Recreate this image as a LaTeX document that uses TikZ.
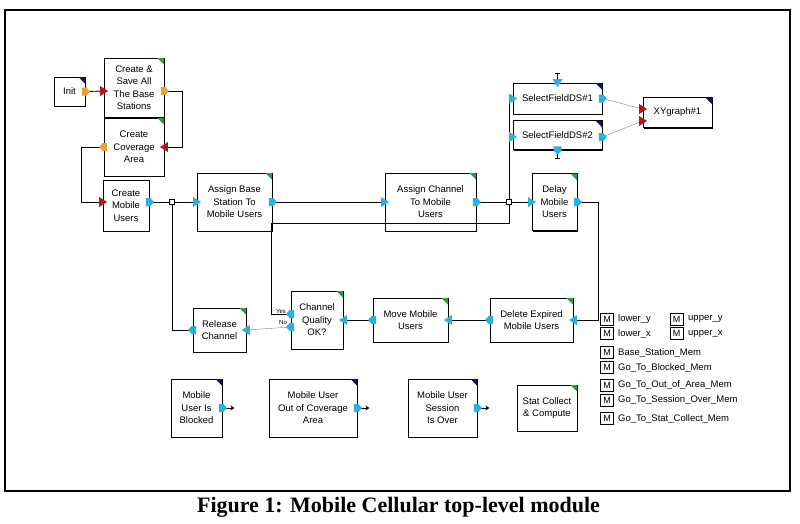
\documentclass[tikz,border=0pt]{standalone}
\usepackage{fontspec}
\newfontfamily\blockfont{Liberation Sans}
\newfontfamily\capfont{Liberation Serif}
\usetikzlibrary{shadows,arrows.meta}

\definecolor{portblue}{RGB}{40,178,222}
\definecolor{portorange}{RGB}{232,160,56}
\definecolor{portred}{RGB}{176,24,24}
\definecolor{cornergreen}{RGB}{40,160,60}
\definecolor{cornernavy}{RGB}{16,16,112}

\tikzset{
  block/.style={draw, line width=0.8pt, fill=white, align=center, inner sep=0pt,
    font=\blockfont\fontsize{9.5}{12.5}\selectfont,
    drop shadow={shadow xshift=1.3pt, shadow yshift=-1.3pt, fill=black, opacity=1}},
  blocksize/.style 2 args={minimum width=#1pt, minimum height=#2pt},
  wire/.style={line width=0.9pt},
  thinwire/.style={line width=0.4pt, gray},
  junction/.style={draw, fill=white, line width=0.6pt, minimum size=4.5pt, inner sep=0pt},
  membox/.style={draw, line width=0.9pt, minimum width=13pt, minimum height=12pt,
    inner sep=0pt, font=\blockfont\fontsize{9}{10}\selectfont},
  memlabel/.style={anchor=west, inner sep=0pt, font=\blockfont\fontsize{9.5}{10}\selectfont},
  pics/inport/.style={code={\fill[#1] (-3.5,-5) -- (4.5,0) -- (-3.5,5) -- cycle;}},
  pics/outport/.style={code={\fill[#1] (-3.5,-4) -- (1,-4) -- (4.5,0) -- (1,4) -- (-3.5,4) -- cycle;}},
  pics/corner/.style={code={\fill[#1] (-7,0.5) -- (-0.5,0.5) -- (-0.5,7) -- cycle;}}
}

\begin{document}
\begin{tikzpicture}[x=1pt,y=-1pt]
\useasboundingbox (0,0) rectangle (800,523);
\draw[line width=1.4pt] (5,10) rectangle (790,491);

% Define nodes
\node[block, blocksize={31}{29}] (init) at (69.5,91.5) {Init};
\node[block, blocksize={60}{59}] (csave) at (134,87.5) {Create \&\\Save All\\The Base\\Stations};
\node[block, blocksize={60}{58}] (ccov) at (134,147) {Create\\Coverage\\Area};
\node[block, blocksize={46}{51}] (cmu) at (126,205.5) {Create\\Mobile\\Users};
\node[block, blocksize={75}{58}] (abs) at (234.5,202) {Assign Base\\Station To\\Mobile Users};
\node[block, blocksize={91}{58}] (ach) at (430.5,202) {Assign Channel\\To Mobile\\Users};
\node[block, blocksize={45}{57}] (dmu) at (554.5,202) {Delay\\Mobile\\Users};
\node[block, blocksize={89}{31}] (sf1) at (557.5,98.5) {SelectFieldDS\#1};
\node[block, blocksize={89}{29}] (sf2) at (557.5,135) {SelectFieldDS\#2};
\node[block, blocksize={69}{30}] (xyg) at (677.5,112.5) {XYgraph\#1};
\node[block, blocksize={53}{44}] (rel) at (219.5,330) {Release\\Channel};
\node[block, blocksize={52}{58}] (cq) at (317,320) {Channel\\Quality\\OK?};
\node[block, blocksize={75}{44}] (mmu) at (410.5,320) {Move Mobile\\Users};
\node[block, blocksize={83}{44}] (dem) at (531.5,320) {Delete Expired\\Mobile Users};
\node[block, blocksize={51}{58}] (blk) at (196.5,408) {Mobile\\User Is\\Blocked};
\node[block, blocksize={88}{58}] (ooc) at (313,408) {Mobile User\\Out of Coverage\\Area};
\node[block, blocksize={69}{58}] (sov) at (442.5,408) {Mobile User\\Session\\Is Over};
\node[block, blocksize={60}{46}] (stat) at (547,408) {Stat Collect\\\& Compute};

\node[junction] (j1) at (172,202) {};
\node[junction] (j2) at (509,202) {};

% Memory blocks
\node[membox] (m1) at (607,319) {M};
\node[memlabel] (t1) at (618,319) {lower\_y};
\node[membox] (m2) at (607,333.5) {M};
\node[memlabel] (t2) at (618,333.5) {lower\_x};
\node[membox] (m3) at (676.5,319) {M};
\node[memlabel] (t3) at (688,319) {upper\_y};
\node[membox] (m4) at (676.5,333.5) {M};
\node[memlabel] (t4) at (688,333.5) {upper\_x};
\node[membox] (m5) at (607,352.5) {M};
\node[memlabel] (t5) at (618,352.5) {Base\_Station\_Mem};
\node[membox] (m6) at (607,367.5) {M};
\node[memlabel] (t6) at (618,367.5) {Go\_To\_Blocked\_Mem};
\node[membox] (m7) at (607,385) {M};
\node[memlabel] (t7) at (618,385) {Go\_To\_Out\_of\_Area\_Mem};
\node[membox] (m8) at (607,400) {M};
\node[memlabel] (t8) at (618,400) {Go\_To\_Session\_Over\_Mem};
\node[membox] (m9) at (607,418.5) {M};
\node[memlabel] (t9) at (618,418.5) {Go\_To\_Stat\_Collect\_Mem};

% Port positions
\coordinate (csave-in) at ([yshift=-3.5pt]csave.west);
\coordinate (csave-out) at ([yshift=-3.5pt]csave.east);
\coordinate (cmu-in) at ([yshift=3.5pt]cmu.west);
\coordinate (cmu-out) at ([yshift=3.5pt]cmu.east);
\coordinate (sf2-in) at ([yshift=-2pt]sf2.west);
\coordinate (sf2-out) at ([yshift=-2pt]sf2.east);
\coordinate (xyg-in1) at ([yshift=3.5pt]xyg.west);
\coordinate (xyg-in2) at ([yshift=-8.5pt]xyg.west);
\coordinate (cq-yes) at ([yshift=6pt]cq.west);
\coordinate (cq-no) at ([yshift=-7pt]cq.west);
\coordinate (loop) at (271,223);
\coordinate (sf1-top) at ([yshift=9pt]sf1.north);
\coordinate (sf2-bot) at ([yshift=-8pt]sf2.south);
\coordinate (blk-end) at ([xshift=12pt]blk.east);
\coordinate (ooc-end) at ([xshift=12pt]ooc.east);
\coordinate (sov-end) at ([xshift=12pt]sov.east);

% Draw connectors
\draw[wire] (init.east) -- (csave-in);
\draw[wire] (csave-out) -- ++(18,0) |- (ccov.east);
\draw[wire] (ccov.west) -- ++(-22,0) |- (cmu-in);
\draw[wire] (cmu-out) -- (j1) -- (abs.west);
\draw[wire] (j1) |- (rel.west);
\draw[wire] (abs.east) -- (ach.west);
\draw[wire] (ach.east) -- (j2) -- (dmu.west);
\draw[wire] (j2) |- (sf1.west);
\draw[wire] (j2) |- (sf2-in);
\draw[wire] (j2) |- (loop) |- (cq-yes);
\draw[wire] (dmu.east) -- ++(21,0) |- (dem.east);
\draw[wire] (dem.west) -- (mmu.east);
\draw[wire] (mmu.west) -- (cq.east);
\draw[thinwire] (cq-no) -- (rel.east);
\draw[thinwire] (sf1.east) -- (xyg-in1);
\draw[thinwire] (sf2-out) -- (xyg-in2);
\draw[line width=0.6pt] (sf1.north) -- (sf1-top) ++(-2.5,0) -- ++(5,0);
\draw[line width=0.6pt] (sf2.south) -- (sf2-bot) ++(-2.5,0) -- ++(5,0);
\draw[wire, -{Stealth[length=4pt,width=5pt]}] (blk.east) -- (blk-end);
\draw[wire, -{Stealth[length=4pt,width=5pt]}] (ooc.east) -- (ooc-end);
\draw[wire, -{Stealth[length=4pt,width=5pt]}] (sov.east) -- (sov-end);

\node[fill=white, inner sep=0.3pt, font=\blockfont\fontsize{6}{6}\selectfont] (yes) at (281,311.5) {Yes};
\node[inner sep=0.3pt, font=\blockfont\fontsize{6}{6}\selectfont] (no) at (283,322.5) {No};

% Ports
\pic at (init.east) {outport=portorange};
\pic at (csave-in) {inport=portred};
\pic at (csave-out) {outport=portorange};
\pic[rotate=180] at (ccov.east) {inport=portred};
\pic[rotate=180] at (ccov.west) {outport=portorange};
\pic at (cmu-in) {inport=portred};
\pic at (cmu-out) {outport=portblue};
\pic at (abs.west) {inport=portblue};
\pic at (abs.east) {outport=portblue};
\pic at (ach.west) {inport=portblue};
\pic at (ach.east) {outport=portblue};
\pic at (dmu.west) {inport=portblue};
\pic at (dmu.east) {outport=portblue};
\pic at (sf1.west) {inport=portblue};
\pic at (sf1.east) {outport=portblue};
\pic[rotate=-90] at (sf1.north) {inport=portblue};
\pic at (sf2-in) {inport=portblue};
\pic at (sf2-out) {outport=portblue};
\pic[rotate=-90] at (sf2.south) {outport=portblue};
\pic at (xyg-in1) {inport=portred};
\pic at (xyg-in2) {inport=portred};
\pic[rotate=180] at (rel.east) {inport=portblue};
\pic[rotate=180] at (rel.west) {outport=portblue};
\pic[rotate=180] at (cq.east) {inport=portblue};
\pic[rotate=180] at (cq-yes) {outport=portblue};
\pic[rotate=180] at (cq-no) {outport=portblue};
\pic[rotate=180] at (mmu.east) {inport=portblue};
\pic[rotate=180] at (mmu.west) {outport=portblue};
\pic[rotate=180] at (dem.east) {inport=portblue};
\pic[rotate=180] at (dem.west) {outport=portblue};
\pic at (blk.east) {outport=portblue};
\pic at (ooc.east) {outport=portblue};
\pic at (sov.east) {outport=portblue};

% Corner marks
\pic at (init.north east) {corner=cornernavy};
\pic at (csave.north east) {corner=cornergreen};
\pic at (ccov.north east) {corner=cornergreen};
\pic at (abs.north east) {corner=cornergreen};
\pic at (ach.north east) {corner=cornergreen};
\pic at (dmu.north east) {corner=cornergreen};
\pic at (sf1.north east) {corner=cornernavy};
\pic at (sf2.north east) {corner=cornernavy};
\pic at (xyg.north east) {corner=cornernavy};
\pic at (rel.north east) {corner=cornergreen};
\pic at (cq.north east) {corner=cornergreen};
\pic at (mmu.north east) {corner=cornergreen};
\pic at (dem.north east) {corner=cornergreen};
\pic at (blk.north east) {corner=cornernavy};
\pic at (ooc.north east) {corner=cornernavy};
\pic at (sov.north east) {corner=cornernavy};
\pic at (stat.north east) {corner=cornergreen};

% Caption
\node[anchor=base, inner sep=0pt, font=\capfont\bfseries\fontsize{22}{24}\selectfont] (caption) at (398.5,512) {Figure 1: Mobile Cellular top-level module};
\end{tikzpicture}
\end{document}
